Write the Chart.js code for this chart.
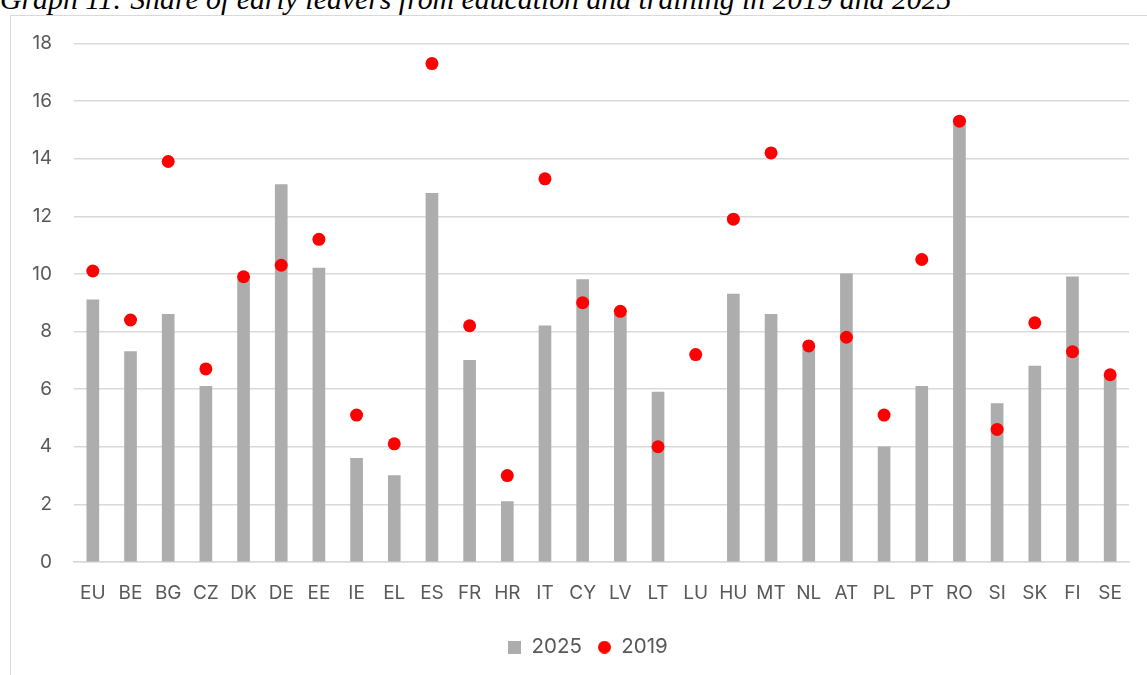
<!DOCTYPE html>
<html>
<head>
<meta charset="utf-8">
<script src="https://cdn.jsdelivr.net/npm/chart.js@4/dist/chart.umd.min.js"></script>
<style>
    body { margin: 0; background: #fff; width: 1147px; height: 675px; overflow: hidden; position: relative; }
    #title { position: absolute; left: 0; top: -16px; font-family: "Liberation Serif", serif; font-style: italic; font-size: 29.8px; line-height: 30px; white-space: nowrap; color: #000; }
    #frame { position: absolute; left: 10px; top: 15px; width: 1160px; height: 700px; border: 1px solid #d9d9d9; background: #fff; }
    #wrap { position: absolute; left: 11px; top: 10px; width: 1155px; height: 665px; }
</style>
</head>
<body>
<div id="title">Graph 11: Share of early leavers from education and training in 2019 and 2025</div>
<div id="frame"></div>
<div id="wrap"><canvas id="myChart"></canvas></div>
<script>
let countries = ["EU", "BE", "BG", "CZ", "DK", "DE", "EE", "IE", "EL", "ES", "FR", "HR", "IT", "CY", "LV", "LT", "LU", "HU", "MT", "NL", "AT", "PL", "PT", "RO", "SI", "SK", "FI", "SE"]
let values2025 = [9.1, 7.3, 8.6, 6.1, 9.8, 13.1, 10.2, 3.6, 3.0, 12.8, 7.0, 2.1, 8.2, 9.8, 8.6, 5.9, null, 9.3, 8.6, 7.4, 10.0, 4.0, 6.1, 15.2, 5.5, 6.8, 9.9, 6.4]
let values2019 = [10.1, 8.4, 13.9, 6.7, 9.9, 10.3, 11.2, 5.1, 4.1, 17.3, 8.2, 3.0, 13.3, 9.0, 8.7, 4.0, 7.2, 11.9, 14.2, 7.5, 7.8, 5.1, 10.5, 15.3, 4.6, 8.3, 7.3, 6.5]
let yTicks = [0, 2, 4, 6, 8, 10, 12, 14, 16, 18]

Chart.defaults.font.family = "Inter, 'Open Sans', sans-serif"
Chart.defaults.font.size = 19
Chart.defaults.color = '#595959'

// little legend markers, same size for the square and the dot
function marker(shape, color) {
    let c = document.createElement("canvas")
    c.width = 13
    c.height = 13
    let g = c.getContext("2d")
    g.fillStyle = color
    if (shape == "rect") {
        g.fillRect(0, 0, 13, 13)
    } else {
        g.beginPath()
        g.arc(6.5, 6.5, 6.5, 0, Math.PI * 2)
        g.fill()
    }
    return c
}
let markers = [marker("rect", "#adadad"), marker("circle", "#ff0000")]

// legend sits centred on the whole frame, not on the padded area
const legendShift = {
    id: 'legendShift',
    afterLayout(chart) {
        chart.legend.left += 18
        chart.legend.right += 18
    }
}

const ctx = document.getElementById('myChart')

new Chart(ctx, {
    type: 'bar',
    data: {
        labels: countries,
        datasets: [
            {
                label: '2025',
                data: values2025,
                backgroundColor: '#adadad',
                barThickness: 12,
                order: 1
            },
            {
                label: '2019',
                type: 'line',
                data: values2019,
                showLine: false,
                pointRadius: 6.5,
                pointStyle: 'circle',
                backgroundColor: '#ff0000',
                borderColor: '#ff0000',
                borderWidth: 0,
                order: 0
            }
        ]
    },
    plugins: [legendShift],
    options: {
        responsive: true,
        maintainAspectRatio: false,
        animation: false,
        layout: { padding: { top: 14, right: 37, left: 0, bottom: 7.5 } },
        plugins: {
            tooltip: { enabled: false },
            legend: {
                position: 'bottom',
                labels: {
                    usePointStyle: true,
                    boxWidth: 13,
                    boxHeight: 13,
                    padding: 16,
                    font: { size: 20.5 },
                    generateLabels: (chart) => chart.data.datasets.map((ds, i) => ({
                        text: ds.label,
                        fillStyle: ds.backgroundColor,
                        strokeStyle: ds.backgroundColor,
                        lineWidth: 0,
                        pointStyle: markers[i],
                        datasetIndex: i,
                        fontColor: '#595959'
                    }))
                }
            }
        },
        scales: {
            x: {
                grid: { display: false },
                border: { color: '#d9d9d9', width: 1.5 },
                ticks: { padding: 12, maxRotation: 0, autoSkip: false },
                afterFit: (axis) => { axis.height = 59 }
            },
            y: {
                min: 0,
                max: 18,
                afterBuildTicks: (axis) => { axis.ticks = yTicks.map(v => ({ value: v })) },
                afterFit: (axis) => { axis.width = 63 },
                grid: { color: '#d9d9d9', lineWidth: 1.5, drawTicks: false },
                border: { display: false },
                ticks: { padding: 22 }
            }
        }
    }
})
</script>
</body>
</html>
